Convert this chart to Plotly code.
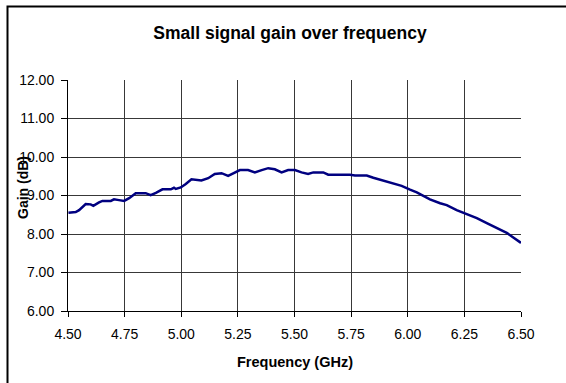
import plotly.graph_objects as go

freq_ghz = [4.502, 4.534, 4.549, 4.578, 4.600, 4.612, 4.637, 4.652, 4.689, 4.703,
            4.725, 4.748, 4.770, 4.799, 4.843, 4.865, 4.888, 4.917, 4.954, 4.968,
            4.976, 4.998, 5.020, 5.045, 5.089, 5.119, 5.148, 5.178, 5.207, 5.229,
            5.259, 5.295, 5.325, 5.355, 5.384, 5.413, 5.443, 5.472, 5.502, 5.531,
            5.560, 5.583, 5.627, 5.649, 5.745, 5.767, 5.819, 5.848, 5.885, 5.929,
            5.973, 6.010, 6.040, 6.069, 6.098, 6.143, 6.172, 6.216, 6.253, 6.305,
            6.349, 6.393, 6.437, 6.466, 6.500]
gain_db = [8.55, 8.57, 8.62, 8.78, 8.77, 8.73, 8.82, 8.86, 8.86, 8.90,
           8.88, 8.86, 8.93, 9.06, 9.06, 9.01, 9.07, 9.16, 9.16, 9.20,
           9.17, 9.21, 9.30, 9.42, 9.39, 9.45, 9.56, 9.58, 9.51, 9.58,
           9.66, 9.66, 9.60, 9.66, 9.71, 9.68, 9.60, 9.66, 9.66, 9.60,
           9.56, 9.60, 9.60, 9.54, 9.54, 9.52, 9.52, 9.46, 9.40, 9.33,
           9.25, 9.15, 9.08, 8.99, 8.90, 8.80, 8.75, 8.62, 8.54, 8.41,
           8.28, 8.16, 8.03, 7.91, 7.77]

x_ticks = [4.50, 4.75, 5.00, 5.25, 5.50, 5.75, 6.00, 6.25, 6.50]
y_ticks = [6, 7, 8, 9, 10, 11, 12]

fig = go.Figure()
fig.add_trace(go.Scatter(x=freq_ghz, y=gain_db, mode="lines",
                         line=dict(color="#000080", width=2.5), showlegend=False))

W, H = 566, 383
L, R, T, B = 68, 45, 80, 72
pw, ph = W - L - R, H - T - B

def px_to_paper_x(px):
    return (px - L) / pw

def px_to_paper_y(py):
    return (H - B - py) / ph

fig.update_layout(
    width=W, height=H,
    margin=dict(l=L, r=R, t=T, b=B, autoexpand=False),
    paper_bgcolor="white", plot_bgcolor="white",
    font=dict(family="Arial, Liberation Sans, sans-serif", color="black", size=14),
    title=dict(text="<b>Small signal gain over frequency</b>",
               x=290 / W, xanchor="center", y=1 - 33 / H, yanchor="middle",
               yref="container", xref="container",
               font=dict(size=17.5, color="black")),
    xaxis=dict(range=[4.5, 6.5], tickvals=x_ticks,
               ticktext=[f"{v:.2f}" for v in x_ticks],
               showgrid=True, gridcolor="#383838", gridwidth=1,
               showline=True, linecolor="black", linewidth=1,
               ticks="outside", ticklen=5, tickcolor="black",
               ticklabelstandoff=5,
               zeroline=False, automargin=False),
    yaxis=dict(range=[6, 12], tickvals=y_ticks,
               ticktext=[f"{v:.2f}" for v in y_ticks],
               showgrid=True, gridcolor="#383838", gridwidth=1,
               showline=True, linecolor="black", linewidth=1,
               ticks="outside", ticklen=6, tickcolor="black",
               ticklabelstandoff=4,
               zeroline=False, automargin=False),
)

fig.add_annotation(text="<b>Frequency (GHz)</b>", xref="paper", yref="paper",
                   x=px_to_paper_x(295), y=px_to_paper_y(361.5),
                   xanchor="center", yanchor="middle", showarrow=False,
                   font=dict(size=14.5, color="black"))
fig.add_annotation(text="<b>Gain (dB)</b>", xref="paper", yref="paper",
                   x=px_to_paper_x(22.5), y=px_to_paper_y(187.5),
                   xanchor="center", yanchor="middle", showarrow=False, textangle=-90,
                   font=dict(size=14, color="black"))

fig.add_shape(type="rect", xref="paper", yref="paper",
              x0=px_to_paper_x(7.5), x1=px_to_paper_x(600),
              y0=px_to_paper_y(420), y1=px_to_paper_y(6.5),
              line=dict(color="black", width=2), fillcolor="rgba(0,0,0,0)", layer="below")

fig.write_html("out.html", config={"displayModeBar": False},
               post_script="document.body.style.margin='0';")
